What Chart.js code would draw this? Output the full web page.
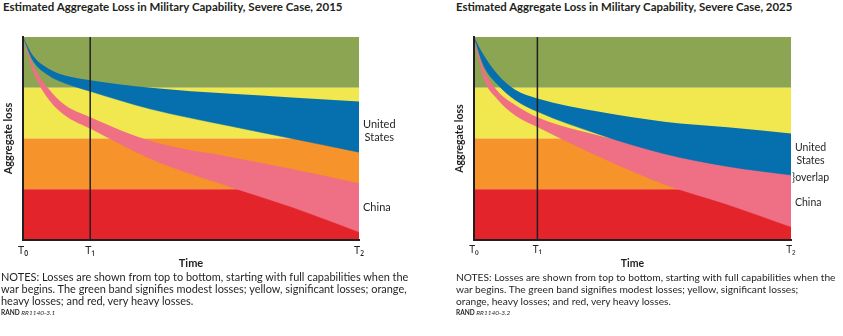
<!DOCTYPE html>
<html>
<head>
<meta charset="utf-8">
<script src="https://cdn.jsdelivr.net/npm/chart.js@4.4.1/dist/chart.umd.min.js"></script>
<style>
  body { margin: 0; width: 843px; height: 336px; background: #fff; position: relative; overflow: hidden;
         font-family: Lato, "Open Sans", sans-serif; color: #231f20; }
  .ttl { position: absolute; top: 0; font-weight: bold; line-height: 14px; white-space: nowrap; }
  .box { position: absolute; top: 30px; }
  .notes { position: absolute; top: 271px; line-height: 12px; white-space: nowrap; }
  .src { font-size: 6.5px; line-height: 9px; position: relative; top: -2px; }
</style>
</head>
<body>
<div class="ttl" style="left:3px;font-size:11.5px">Estimated Aggregate Loss in Military Capability, Severe Case, 2015</div>
<div class="ttl" style="left:456px;font-size:11.4px">Estimated Aggregate Loss in Military Capability, Severe Case, 2025</div>
<div class="box" style="left:0"><canvas id="c2015" width="420" height="242"></canvas></div>
<div class="box" style="left:440px"><canvas id="c2025" width="403" height="242"></canvas></div>
<div class="notes" style="left:1px;font-size:10.95px">NOTES: Losses are shown from top to bottom, starting with full capabilities when the<br>war begins. The green band signifies modest losses; yellow, significant losses; orange,<br>heavy losses; and red, very heavy losses.<br><span class="src"><b>RAND</b> <i>RR1140-3.1</i></span></div>
<div class="notes" style="left:456px;font-size:10.2px">NOTES: Losses are shown from top to bottom, starting with full capabilities when the<br>war begins. The green band signifies modest losses; yellow, significant losses;<br>orange, heavy losses; and red, very heavy losses.<br><span class="src"><b>RAND</b> <i>RR1140-3.2</i></span></div>
<script>
// ── data ──
const timeTicks = [0, 2, 10];
const timeLabels = ['T\u2080', 'T\u2081', 'T\u2082'];
const bandEdges = [0, 1, 2, 3, 4];   // red | orange | yellow | green
const t1 = 2;

// 2015 panel
const time2015 = [0, 0.3, 0.75, 1.25, 2, 3.8, 6.2, 8, 10];
const usHigh2015 = [4, 3.63, 3.38, 3.24, 3.15, 3.0, 2.88, 2.81, 2.73];
const usLow2015  = [4, 3.53, 3.25, 3.09, 2.93, 2.58, 2.24, 2.0, 1.73];
const cnHigh2015 = [4, 3.45, 2.99, 2.66, 2.42, 1.95, 1.63, 1.4, 1.12];
const cnLow2015  = [4, 3.33, 2.79, 2.46, 2.2, 1.6, 1.04, 0.65, 0.16];

// 2025 panel
const time2025 = [0, 0.3, 0.75, 1.3, 2, 4, 6, 8, 10];
const usHigh2025 = [4, 3.65, 3.26, 2.96, 2.79, 2.52, 2.33, 2.22, 2.1];
const usLow2025  = [4, 3.44, 3.06, 2.76, 2.53, 2.07, 1.7, 1.45, 1.28];
const cnHigh2025 = [4, 3.38, 2.93, 2.66, 2.42, 2.05, 1.78, 1.58, 1.42];
const cnLow2025  = [4, 3.2, 2.77, 2.46, 2.23, 1.63, 1.1, 0.7, 0.26];

// ── styles ──
const INK = '#231f20';
const FONT = 'Lato, "Open Sans", sans-serif';
const TICK_FONT = '"Noto Sans", Lato, sans-serif';
const bandColors = ['#e3242b', '#f6932a', '#f1e84f', '#8ca552'];
const US_BLUE = '#066fae', CN_PINK = '#ef6f84';

const pts = (xs, ys) => xs.map((x, i) => ({ x, y: ys[i] }));
const last = a => a[a.length - 1];

// text to the right of the plot, y in data units
const sideLabels = {
  id: 'sideLabels',
  afterDraw(chart, args, opts) {
    const { ctx, chartArea, scales } = chart;
    ctx.save();
    ctx.fillStyle = INK;
    ctx.font = opts.size + 'px ' + FONT;
    ctx.textBaseline = 'middle';
    opts.items.forEach(it => {
      const yc = scales.y.getPixelForValue(it.y) + (it.dy || 0);
      const w = Math.max(...it.lines.map(l => ctx.measureText(l).width));
      ctx.textAlign = it.center ? 'center' : 'left';
      const x = chartArea.right + (it.dx || 4) + (it.center ? w / 2 : 0);
      it.lines.forEach((l, k) => ctx.fillText(l, x, yc + (k - (it.lines.length - 1) / 2) * 12.5));
    });
    ctx.restore();
  }
};

function makeChart(id, time, usHigh, usLow, cnHigh, cnLow, geo, labels) {
  const xMin = timeTicks[0], xMax = last(timeTicks);
  const bands = bandColors.map((c, i) => ({
    data: pts([xMin, xMax], [bandEdges[i + 1], bandEdges[i + 1]]),
    fill: { value: bandEdges[i] }, backgroundColor: c,
    borderColor: 'rgba(0,0,0,0)', borderWidth: 0, order: 5
  }));
  return new Chart(document.getElementById(id).getContext('2d'), {
    type: 'line',
    data: {
      datasets: [
        ...bands,
        { data: pts(time, cnHigh), borderColor: 'rgba(0,0,0,0)', borderWidth: 0, fill: false, order: 3, cubicInterpolationMode: 'monotone' },
        { data: pts(time, cnLow), borderColor: CN_PINK, borderWidth: 0.5, backgroundColor: CN_PINK, fill: '-1', order: 3, cubicInterpolationMode: 'monotone' },
        { data: pts(time, usHigh), borderColor: 'rgba(0,0,0,0)', borderWidth: 0, fill: false, order: 2, cubicInterpolationMode: 'monotone' },
        { data: pts(time, usLow), borderColor: US_BLUE, borderWidth: 0.5, backgroundColor: US_BLUE, fill: '-1', order: 2, cubicInterpolationMode: 'monotone' },
        { data: pts([t1, t1], [bandEdges[0], last(bandEdges)]), borderColor: INK, borderWidth: 1.5, fill: false, order: 0 }
      ]
    },
    options: {
      responsive: false, animation: false, devicePixelRatio: 1,
      layout: { padding: { left: 0, right: geo.right, top: 7, bottom: 0 } },
      elements: { point: { radius: 0, hoverRadius: 0 } },
      plugins: { legend: { display: false }, tooltip: { enabled: false }, sideLabels: { items: labels, size: geo.font } },
      scales: {
        x: {
          type: 'linear', min: xMin, max: xMax,
          afterBuildTicks: s => { s.ticks = timeTicks.map(v => ({ value: v })); },
          afterFit: s => { s.height = 32; },
          grid: { display: false, drawTicks: false },
          border: { color: INK, width: 2, z: 1 },
          ticks: { autoSkip: false, maxRotation: 0, padding: 4, color: INK, font: { size: geo.font, family: TICK_FONT },
                   callback: v => timeLabels[timeTicks.indexOf(v)] },
          title: { display: true, text: 'Time', color: INK, padding: { top: 0, bottom: 2 }, font: { size: geo.font, weight: 'bold', family: FONT } }
        },
        y: {
          type: 'linear', min: bandEdges[0], max: last(bandEdges),
          afterFit: s => { s.width = geo.left; },
          grid: { display: false, drawTicks: false },
          border: { color: INK, width: 2, z: 1 },
          ticks: { display: false },
          title: { display: true, text: 'Aggregate loss', color: INK, padding: { top: geo.titlePad, bottom: 0 }, font: { size: geo.font, weight: 'bold', family: FONT } }
        }
      }
    },
    plugins: [sideLabels]
  });
}

makeChart('c2015', time2015, usHigh2015, usLow2015, cnHigh2015, cnLow2015,
  { left: 23, right: 61, titlePad: 1.5, font: 11 }, [
  { lines: ['United', 'States'], y: (last(usHigh2015) + last(usLow2015)) / 2, center: true, dy: 4 },
  { lines: ['China'], y: (last(cnHigh2015) + last(cnLow2015)) / 2 }
]);
makeChart('c2025', time2025, usHigh2025, usLow2025, cnHigh2025, cnLow2025,
  { left: 34, right: 52, titlePad: 13.5, font: 10.5 }, [
  { lines: ['United', 'States'], y: (last(usHigh2025) + last(usLow2025)) / 2, center: true },
  { lines: ['}overlap'], y: last(usLow2025), dx: 1, dy: 3 },
  { lines: ['China'], y: (last(usLow2025) + last(cnLow2025)) / 2, dy: 2 }
]);
</script>
</body>
</html>
